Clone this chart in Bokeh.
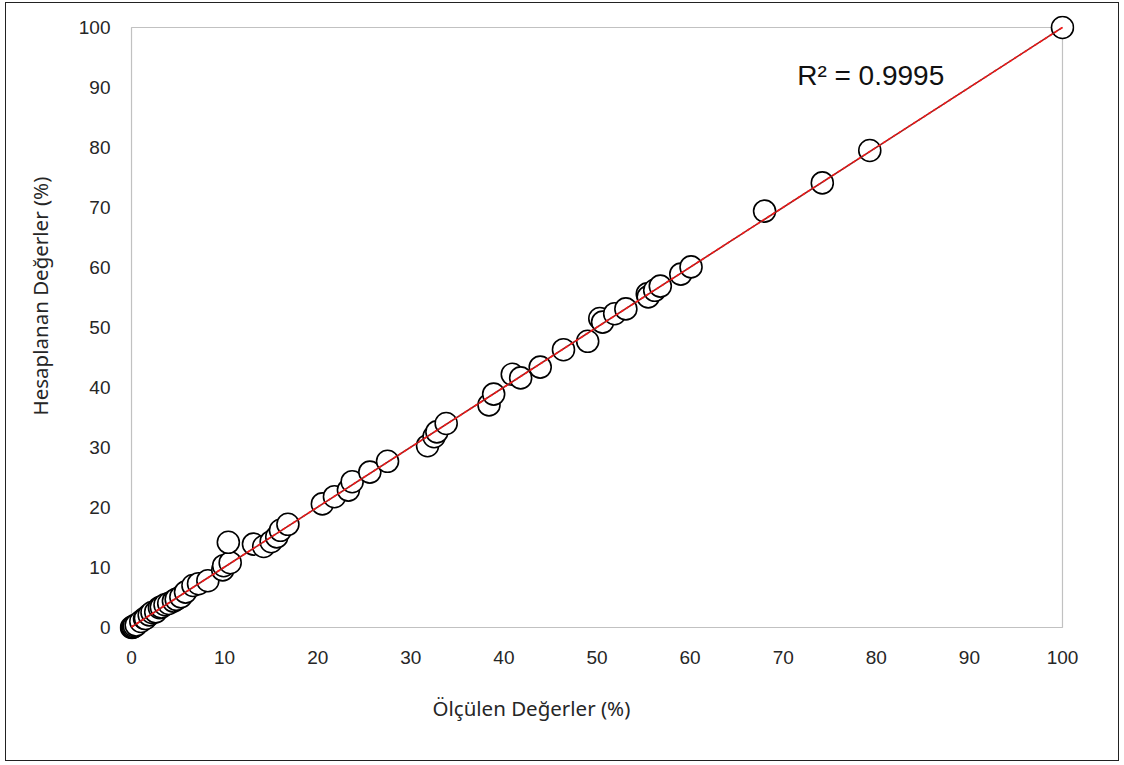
import numpy as np
from bokeh.plotting import figure
from bokeh.models import Title, Label, BoxAnnotation, FixedTicker, ColumnDataSource
from bokeh.embed import file_html
from bokeh.resources import INLINE

# ---- data ----
measured = [0.0, 0.1, 0.2, 0.3, 0.5, 1.0, 1.4, 1.5, 1.9, 2.2, 2.6, 3.0, 3.2, 3.6, 4.0,
            4.5, 4.8, 5.3, 5.8, 6.6, 7.2, 8.2, 9.8, 9.9, 10.6, 10.4, 13.1, 14.2, 15.0,
            15.6, 16.0, 16.8, 20.5, 21.8, 23.3, 23.7, 25.6, 27.5, 31.8, 32.5, 32.8,
            33.8, 38.4, 38.9, 40.9, 41.8, 43.9, 46.4, 49.0, 50.3, 50.6, 51.9, 53.1,
            55.4, 55.5, 56.2, 56.8, 59.0, 60.1, 68.0, 74.2, 79.3, 100.0]
predicted = [0.0, 0.0, 0.1, 0.3, 0.4, 1.0, 1.5, 1.5, 2.1, 2.5, 2.6, 3.3, 3.4, 3.8, 4.0,
             4.4, 4.7, 5.1, 5.9, 7.0, 7.3, 7.8, 9.6, 10.3, 10.8, 14.2, 13.9, 13.5, 14.3,
             15.1, 16.2, 17.2, 20.6, 21.8, 22.9, 24.3, 25.9, 27.7, 30.3, 31.8, 32.6,
             34.0, 37.1, 38.9, 42.2, 41.6, 43.4, 46.3, 47.7, 51.5, 50.9, 52.3, 53.1,
             55.6, 55.1, 56.2, 56.9, 58.9, 60.1, 69.4, 74.1, 79.5, 100.0]
x_ticks = [0, 10, 20, 30, 40, 50, 60, 70, 80, 90, 100]
y_ticks = [0, 10, 20, 30, 40, 50, 60, 70, 80, 90, 100]
x_title = "Ölçülen Değerler (%)"
y_title = "Hesaplanan Değerler (%)"
r2_text = "R² = 0.9995"

# ---- figure ----
p = figure(width=1114, height=759,
           x_range=(-1.29, 101.29), y_range=(-2.0, 102.0),
           output_backend="svg", toolbar_location=None,
           min_border_left=113, min_border_right=46,
           min_border_top=12, min_border_bottom=123)
p.styles = {"border": "1px solid #222222", "margin-left": "5px", "margin-top": "2px"}
p.background_fill_color = "white"
p.border_fill_color = "white"
p.outline_line_color = None
p.grid.visible = False

# inner plot box (0..100 on both axes)
box = BoxAnnotation(left=min(x_ticks), right=max(x_ticks),
                    bottom=min(y_ticks), top=max(y_ticks),
                    fill_alpha=0, line_color="#333333", line_width=1.2,
                    level="underlay")
p.add_layout(box)

for ax, ticks in ((p.xaxis, x_ticks), (p.yaxis, y_ticks)):
    ax.ticker = FixedTicker(ticks=ticks)
    ax.axis_line_color = None
    ax.major_tick_line_color = None
    ax.minor_tick_line_color = None
    ax.major_tick_out = 0
    ax.major_tick_in = 0
    ax.major_label_text_font = "Liberation Sans"
    ax.major_label_text_font_size = "19px"
    ax.major_label_text_color = "#262626"
p.xaxis.major_label_standoff = 11
p.yaxis.major_label_standoff = 9

# axis titles (off-centre, as in the reference)
p.add_layout(Title(text=x_title, align="left", offset=313, standoff=50,
                   text_font="Noto Sans", text_font_size="20.5px",
                   text_font_style="normal", text_color="#262626"), "below")
p.add_layout(Title(text=y_title, align="left", offset=224, standoff=39,
                   vertical_align="top",
                   text_font="Noto Sans", text_font_size="20.5px",
                   text_font_style="normal", text_color="#262626"), "left")

# scatter points
src = ColumnDataSource(dict(x=measured, y=predicted))
p.scatter("x", "y", source=src, size=22, marker="circle",
          fill_color="white", line_color="black", line_width=1.6)

# linear trendline fitted to the data
xa = np.array(measured)
ya = np.array(predicted)
slope, intercept = np.polyfit(xa, ya, 1)
tx = [xa.min(), xa.max()]
ty = [slope * v + intercept for v in tx]
p.line(tx, ty, line_color="#9b1c1c", line_width=1.6)
p.line(tx, ty, line_color="#ff1a1a", line_width=1.6, line_dash="3 3")

# R^2 annotation
p.add_layout(Label(x=71.5, y=92.0, text=r2_text, text_font="Liberation Sans",
                   text_font_size="28px", text_color="#111111",
                   text_baseline="alphabetic", text_align="left"))

open("out.html", "w").write(file_html(p, INLINE))
